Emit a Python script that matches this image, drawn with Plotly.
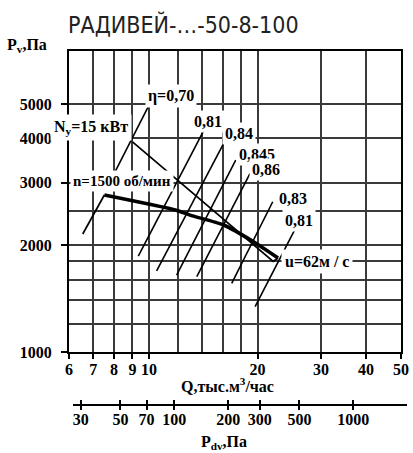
import math
import plotly.graph_objects as go

# ---------------- data ----------------
title_text = "РАДИВЕЙ-…-50-8-100"

q_ticks = [6, 7, 8, 9, 10, 20, 30, 40, 50]
q_minor = [12, 14, 16, 18]
p_ticks = [1000, 2000, 3000, 4000, 5000]
p_minor = [1200, 1400, 1600, 1800, 2500]
pdv_ticks = [30, 50, 70, 100, 200, 300, 500, 1000]

# fan curve n = 1500 rpm
q_stall = [6.55, 7.52]
p_stall = [2150, 2770]
q_curve = [7.52, 11.9, 13.0, 16.1, 19.5, 22.8]
p_curve = [2770, 2510, 2430, 2280, 2045, 1840]

# power line Ny = 15 kW
q_power = [9.0, 22.1, 22.8]
p_power = [3910, 1800, 1840]

# efficiency lines
eta_labels = ["η=0,70", "0,81", "0,84", "0,845", "0,86", "0,83", "0,81"]
eta_q_low = [8.05, 9.34, 10.5, 11.93, 13.57, 16.96, 19.69]
eta_p_low = [3220, 1864, 1694, 1648, 1630, 1561, 1342]
eta_q_high = [10.06, 14.3, 16.33, 17.4, 19.07, 22.04, 25.4]
eta_p_high = [5018, 4276, 3974, 3474, 3187, 2651, 2216]

# ---------------- layout geometry ----------------
W, H = 413, 453
ML, MR, MT, MB = 69, 6, 51, 48
PW, PH = W - ML - MR, H - MT - MB


def px(x):
    return (x - ML) / PW


def py(y):
    return (H - MB - y) / PH


FONT = "Liberation Serif, Times New Roman, serif"
BLK = "#000000"
GRID = "#3a3a3a"

fig = go.Figure()

for ql, pl, qh, ph in zip(eta_q_low, eta_p_low, eta_q_high, eta_p_high):
    fig.add_trace(go.Scatter(x=[ql, qh], y=[pl, ph], mode="lines",
                             line=dict(color=BLK, width=1.6), hoverinfo="skip",
                             showlegend=False))

fig.add_trace(go.Scatter(x=q_power, y=p_power, mode="lines",
                         line=dict(color=BLK, width=1.7), hoverinfo="skip", showlegend=False))
fig.add_trace(go.Scatter(x=q_stall, y=p_stall, mode="lines",
                         line=dict(color=BLK, width=1.7), hoverinfo="skip", showlegend=False))
fig.add_trace(go.Scatter(x=q_curve, y=p_curve, mode="lines",
                         line=dict(color=BLK, width=3.6, shape="spline", smoothing=0.6),
                         hoverinfo="skip", showlegend=False))

# helper trace so that the dynamic-pressure axis is drawn
fig.add_trace(go.Scatter(x=[], y=[], xaxis="x2", yaxis="y2", showlegend=False))

tickfont = dict(family=FONT, size=16, color=BLK, weight="bold")
pdv_lo = math.log10(30) - 7.7 / 179
pdv_hi = math.log10(30) + 326.3 / 179

fig.update_layout(
    width=W, height=H,
    margin=dict(l=ML, r=MR, t=MT, b=MB),
    paper_bgcolor="white", plot_bgcolor="white",
    showlegend=False,
    xaxis=dict(
        type="log", range=[math.log10(6), math.log10(50)],
        domain=[0, px(401)], anchor="y",
        tickmode="array", tickvals=q_ticks, ticktext=[str(v) for v in q_ticks],
        ticks="outside", ticklen=5, tickwidth=1.5, tickcolor=BLK,
        showgrid=True, gridcolor=GRID, gridwidth=1.5,
        minor=dict(tickmode="array", tickvals=q_minor, showgrid=True,
                   gridcolor=GRID, gridwidth=1.5, ticks=""),
        showline=True, linecolor=BLK, linewidth=2, mirror=True,
        tickfont=tickfont, ticklabelstandoff=-3, zeroline=False, automargin=False,
    ),
    yaxis=dict(
        type="log", range=[3, math.log10(7050)],
        domain=[py(352), 1], anchor="x",
        tickmode="array", tickvals=p_ticks, ticktext=[str(v) for v in p_ticks],
        ticks="outside", ticklen=6, tickwidth=1.5, tickcolor=BLK,
        showgrid=True, gridcolor=GRID, gridwidth=1.5,
        minor=dict(tickmode="array", tickvals=p_minor, showgrid=True,
                   gridcolor=GRID, gridwidth=1.5, ticks=""),
        showline=True, linecolor=BLK, linewidth=2, mirror=True,
        tickfont=tickfont, ticklabelstandoff=6, zeroline=False, automargin=False,
    ),
    xaxis2=dict(
        type="log", anchor="y2",
        domain=[px(73), 1],
        range=[pdv_lo, pdv_hi],
        tickmode="array", tickvals=pdv_ticks, ticktext=[str(v) for v in pdv_ticks],
        ticks="outside", ticklen=4, tickwidth=1.5, tickcolor=BLK,
        showgrid=False, showline=True, linecolor=BLK, linewidth=1,
        mirror="ticks",
        tickfont=tickfont, ticklabelstandoff=-4, zeroline=False, automargin=False,
    ),
    yaxis2=dict(
        domain=[0, 0.0005], anchor="x2", range=[0, 1],
        visible=False, showgrid=False, zeroline=False,
    ),
)

annots = []
# title
annots.append(dict(text=title_text, xref="paper", yref="paper", x=px(66), y=py(25),
                   xanchor="left", yanchor="middle", showarrow=False,
                   font=dict(family="Liberation Sans Narrow, DejaVu Sans Condensed, sans-serif",
                             size=23, color="#222222")))
# axis titles
annots.append(dict(text="<b>P<sub>v</sub>,Па</b>", xref="paper", yref="paper",
                   x=px(5), y=py(45), xanchor="left", yanchor="middle", showarrow=False,
                   font=dict(family=FONT, size=16, color=BLK)))
annots.append(dict(text="<b>Q,тыс.м<sup>3</sup>/час</b>", xref="paper", yref="paper",
                   x=px(227), y=py(385), xanchor="center", yanchor="middle", showarrow=False,
                   font=dict(family=FONT, size=16, color=BLK)))
annots.append(dict(text="<b>P<sub>dv</sub>,Па</b>", xref="paper", yref="paper",
                   x=px(224), y=py(442), xanchor="center", yanchor="middle", showarrow=False,
                   font=dict(family=FONT, size=16, color=BLK)))

# efficiency labels (offset from the upper end of each line, in pixels)
eta_shift = [(21, 7), (3, 7), (13, 6), (21, 6), (16, 4), (20, 3), (4, 9)]
for lab, qh, ph, (dx, dy) in zip(eta_labels, eta_q_high, eta_p_high, eta_shift):
    annots.append(dict(text=f"<b>{lab}</b>", xref="x", yref="y",
                       x=math.log10(qh), y=math.log10(ph), xshift=dx, yshift=dy,
                       xanchor="center", yanchor="middle", showarrow=False,
                       bgcolor="white", borderpad=2,
                       font=dict(family=FONT, size=16, color=BLK)))

# power label
annots.append(dict(text="<b>N<sub>y</sub>=15 кВт</b>", xref="x", yref="y",
                   x=math.log10(q_power[0]), y=math.log10(p_power[0]),
                   xshift=-41, yshift=14, xanchor="center", yanchor="middle",
                   showarrow=False, bgcolor="white", borderpad=3,
                   font=dict(family=FONT, size=16, color=BLK)))
# speed label
annots.append(dict(text="<b>n=1500 об/мин</b>", xref="x", yref="y",
                   x=math.log10(q_curve[0]), y=math.log10(p_curve[0]),
                   xshift=18, yshift=14, xanchor="center", yanchor="middle",
                   showarrow=False, bgcolor="white", borderpad=2,
                   font=dict(family=FONT, size=15, color=BLK)))
# tip speed label
annots.append(dict(text="<b>u=62м / с</b>", xref="x", yref="y",
                   x=math.log10(q_curve[-1]), y=math.log10(p_curve[-1]),
                   xshift=3, yshift=-3, xanchor="left", yanchor="middle",
                   showarrow=False, bgcolor="white", borderpad=3,
                   font=dict(family=FONT, size=16, color=BLK)))

fig.update_layout(annotations=annots)

fig.write_html("out.html", config=dict(displayModeBar=False),
               post_script="document.body.style.margin='0';"
                           "document.body.style.overflow='hidden';")
